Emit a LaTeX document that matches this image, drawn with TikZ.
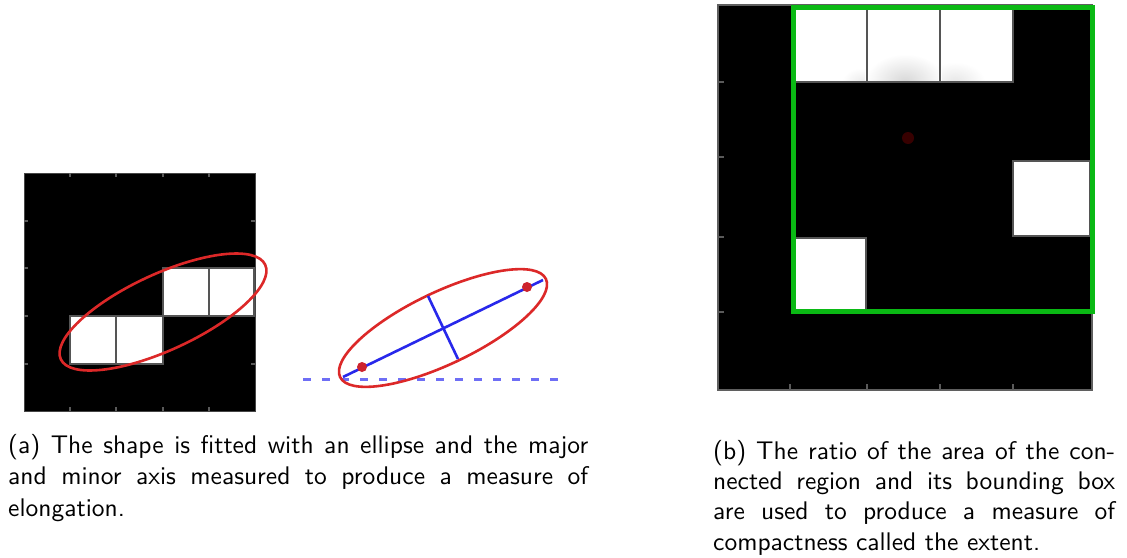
\documentclass[tikz,border=0pt]{standalone}
\usepackage{fontspec}
\setsansfont{lmsans10-regular.otf}
\definecolor{cgray}{RGB}{85,85,85}
\definecolor{tgray}{RGB}{90,90,90}
\definecolor{edgea}{RGB}{70,70,70}
\definecolor{edgeb}{RGB}{95,95,95}
\definecolor{ered}{RGB}{220,40,40}
\definecolor{eblue}{RGB}{40,40,235}
\definecolor{lblue}{RGB}{110,110,245}
\definecolor{dred}{RGB}{205,35,45}
\definecolor{darkdot}{RGB}{55,0,0}
\definecolor{bgreen}{RGB}{10,185,20}
\definecolor{sh1}{RGB}{215,215,215}
\definecolor{sh2}{RGB}{230,230,230}
\definecolor{sh3}{RGB}{235,235,235}
\begin{document}
\begin{tikzpicture}[x=1pt,y=-1pt,
  cellgray/.style={draw=cgray, line width=2.5pt},
  whitecell/.style={fill=white, cellgray},
  tick/.style={draw=tgray, line width=1.5pt},
  redline/.style={draw=ered, line width=2.6pt},
  blueline/.style={draw=eblue, line width=2.6pt},
  reddot/.style={fill=dred},
  caption/.style={anchor=base west, inner sep=0pt, align=justify,
    font=\sffamily\fontsize{25.5}{31.3}\selectfont}]
\useasboundingbox (0,0) rectangle (1127,557);
\fill[white] (0,0) rectangle (1127,557);

% ---------- left grid (a) ----------
\fill[black] (24,173) rectangle (255,411);
\draw[draw=edgea, line width=1pt] (24,173) rectangle (255,411);
\foreach \x in {70,116,163,209} {
  \draw[tick] (\x,173) -- (\x,177);
  \draw[tick] (\x,407) -- (\x,411);
}
\foreach \y in {221,268,316,364} {
  \draw[tick] (24,\y) -- (28,\y);
  \draw[tick] (251,\y) -- (255,\y);
}
\draw[whitecell] (70,316) rectangle (116,364);
\draw[whitecell] (116,316) rectangle (163,364);
\draw[whitecell] (163,268) rectangle (209,316);
\draw[whitecell] (209,268) rectangle (254,316);
\draw[redline, rotate around={24.8:(163,312)}] (163,312) ellipse [x radius=112.6pt, y radius=38pt];

% ---------- fitted ellipse ----------
\draw[draw=lblue, line width=3pt, dash pattern=on 8pt off 11pt] (303,379) -- (568,379);
\draw[redline, rotate around={25.5:(443,328)}] (443,328) ellipse [x radius=114pt, y radius=36pt];
\coordinate (majA) at (343,377);
\coordinate (majB) at (543,280);
\coordinate (minA) at (428,296);
\coordinate (minB) at (458,359);
\draw[blueline] (majA) -- (majB);
\draw[blueline] (minA) -- (minB);
\fill[reddot] (362,367) circle [radius=5pt];
\fill[reddot] (527,287) circle [radius=5pt];

% ---------- right grid (b) ----------
\fill[black] (718,5) rectangle (1092,390);
\draw[draw=edgeb, line width=2pt] (718,5) rectangle (1092,390);
\foreach \x in {790,867,940,1013} {
  \draw[tick] (\x,384) -- (\x,390);
}
\foreach \y in {82,157,237,312} {
  \draw[tick] (718,\y) -- (724,\y);
}
\draw[whitecell] (792,6) rectangle (867,82);
\draw[whitecell] (867,6) rectangle (940,82);
\draw[whitecell] (940,6) rectangle (1013,82);
\begin{scope}
  \clip (869,8) rectangle (938,80);
  \shade[inner color=sh1, outer color=white] (905,82) ellipse [x radius=40pt, y radius=28pt];
\end{scope}
\begin{scope}
  \clip (942,8) rectangle (1011,80);
  \shade[inner color=sh2, outer color=white] (955,82) ellipse [x radius=30pt, y radius=20pt];
\end{scope}
\begin{scope}
  \clip (794,8) rectangle (865,80);
  \shade[inner color=sh3, outer color=white] (862,82) ellipse [x radius=20pt, y radius=14pt];
\end{scope}
\draw[whitecell] (1013,161) rectangle (1090,236);
\draw[whitecell] (792,238) rectangle (866,312);
\fill[darkdot] (908,138) circle [radius=6pt];
\draw[draw=bgreen, line width=5pt] (793,7) rectangle (1092,311);

% ---------- captions ----------
\node[caption, text width=580pt] (capa) at (8,453.5)
  {(a) The shape is fitted with an ellipse and the major\linebreak
   and minor axis measured to produce a measure of\linebreak
   elongation.};
\node[caption, text width=402pt,
  font=\sffamily\fontsize{25.5}{30.2}\selectfont] (capb) at (713,459.5)
  {(b) The ratio of the area of the con-\linebreak
   nected region and its bounding box\linebreak
   are used to produce a measure of\linebreak
   compactness called the extent.};
\end{tikzpicture}
\end{document}
